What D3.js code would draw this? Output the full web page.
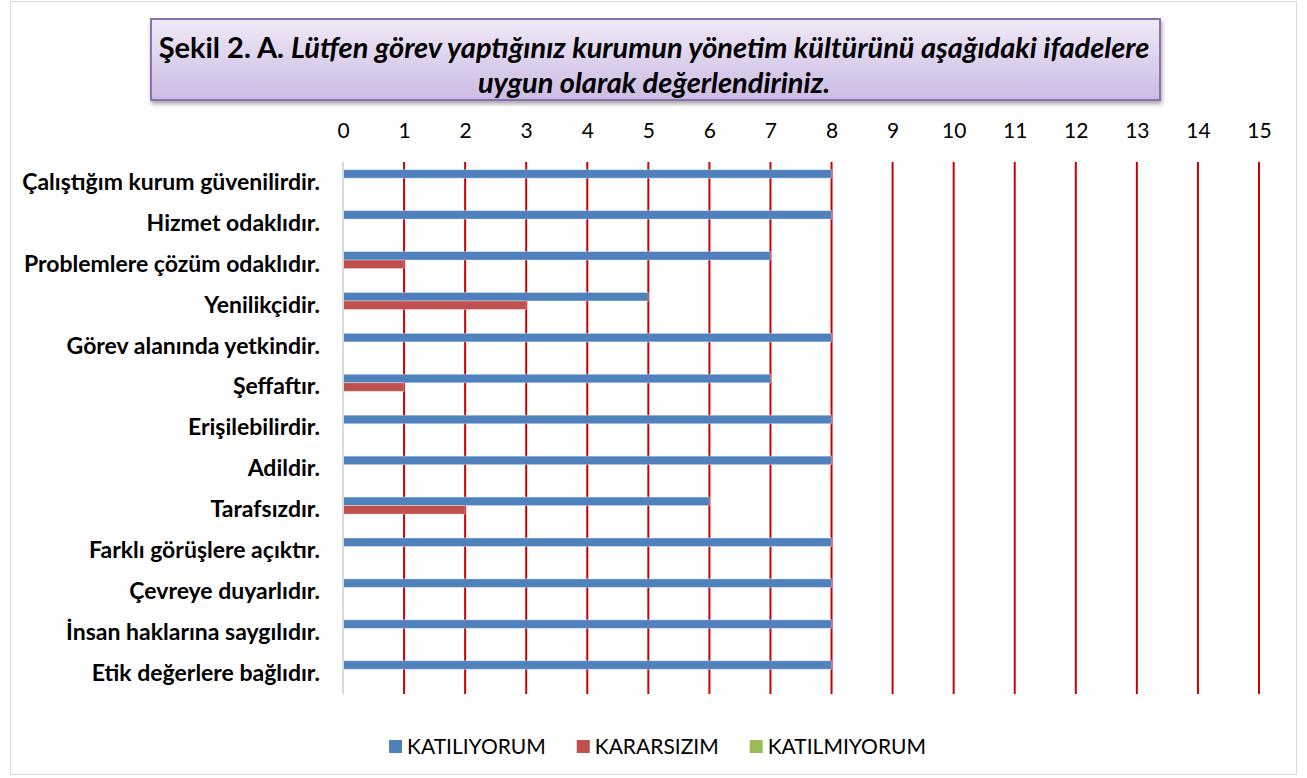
<!DOCTYPE html>
<html>
<head>
<meta charset="utf-8">
<script src="https://cdnjs.cloudflare.com/ajax/libs/d3/7.8.5/d3.min.js"></script>
<style>
  body { margin: 0; background: #fff; }
  svg { display: block; font-family: Lato, "Open Sans", sans-serif; }
</style>
</head>
<body>
<div id="chart"></div>
<script>
const categories = [
    "Çalıştığım kurum güvenilirdir.",
    "Hizmet odaklıdır.",
    "Problemlere çözüm odaklıdır.",
    "Yenilikçidir.",
    "Görev alanında yetkindir.",
    "Şeffaftır.",
    "Erişilebilirdir.",
    "Adildir.",
    "Tarafsızdır.",
    "Farklı görüşlere açıktır.",
    "Çevreye duyarlıdır.",
    "İnsan haklarına saygılıdır.",
    "Etik değerlere bağlıdır."
];
const seriesNames = ["KATILIYORUM", "KARARSIZIM", "KATILMIYORUM"];
const katiliyorum = [8, 8, 7, 5, 8, 7, 8, 8, 6, 8, 8, 8, 8];
const kararsizim = [0, 0, 1, 3, 0, 1, 0, 0, 2, 0, 0, 0, 0];
const katilmiyorum = [0, 0, 0, 0, 0, 0, 0, 0, 0, 0, 0, 0, 0];
const tickValues = d3.range(0, 16);

const colors = ["#4f81bd", "#c0504d", "#9bbb59"];
const seriesValues = [katiliyorum, kararsizim, katilmiyorum];

const width = 1307, height = 778;
const plot = { left: 343, right: 1259, top: 162, bottom: 694 };

const svg = d3.select("#chart")
    .append("svg")
    .attr("width", width)
    .attr("height", height);

// outer frame
svg.append("rect")
    .attr("x", 10.5).attr("y", 1.5)
    .attr("width", 1286).attr("height", 773)
    .attr("fill", "#fff")
    .attr("stroke", "#d9d9d9");

// title box
const defs = svg.append("defs");
const grad = defs.append("linearGradient")
    .attr("id", "titleGrad")
    .attr("x1", 0).attr("y1", 0).attr("x2", 0).attr("y2", 1);
grad.append("stop").attr("offset", "0%").attr("stop-color", "#efe9f6");
grad.append("stop").attr("offset", "100%").attr("stop-color", "#cbbbe3");

const shadow = defs.append("filter").attr("id", "shadow")
    .attr("x", "-5%").attr("y", "-20%").attr("width", "110%").attr("height", "150%");
shadow.append("feDropShadow")
    .attr("dx", 1).attr("dy", 3).attr("stdDeviation", 2)
    .attr("flood-color", "#000").attr("flood-opacity", 0.35);

svg.append("rect")
    .attr("x", 151).attr("y", 19)
    .attr("width", 1009).attr("height", 81)
    .attr("fill", "url(#titleGrad)")
    .attr("stroke", "#8a72b0")
    .attr("stroke-width", 2)
    .attr("filter", "url(#shadow)");

const titleSize = 29;
const title1 = svg.append("text")
    .attr("x", 654).attr("y", 58)
    .attr("text-anchor", "middle")
    .attr("font-size", titleSize)
    .attr("font-weight", "bold")
    .attr("fill", "#000");
title1.append("tspan").text("Şekil 2. A. ");
title1.append("tspan").attr("font-style", "italic")
    .text("Lütfen görev yaptığınız kurumun yönetim kültürünü aşağıdaki ifadelere");

svg.append("text")
    .attr("x", 654).attr("y", 93)
    .attr("text-anchor", "middle")
    .attr("font-size", titleSize)
    .attr("font-weight", "bold")
    .attr("font-style", "italic")
    .text("uygun olarak değerlendiriniz.");

// scales
const x = d3.scaleLinear().domain([0, 15]).range([plot.left, plot.right]);
const y = d3.scaleBand().domain(categories).range([plot.top, plot.bottom]).paddingInner(0.375).paddingOuter(0.1875);
const ySeries = d3.scaleBand().domain(seriesNames).range([0, y.bandwidth()]);

// gridlines
svg.append("g")
    .selectAll("line")
    .data(tickValues.filter(d => d > 0))
    .join("line")
    .attr("x1", d => x(d)).attr("x2", d => x(d))
    .attr("y1", plot.top).attr("y2", plot.bottom)
    .attr("stroke", "#cc0000")
    .attr("stroke-width", 2);

// top axis labels
const xAxis = svg.append("g")
    .attr("transform", `translate(0,${plot.top - 24})`)
    .call(d3.axisTop(x).tickValues(tickValues).tickSize(0).tickPadding(0));
xAxis.select(".domain").remove();
xAxis.selectAll("text")
    .attr("font-family", "Lato, 'Open Sans', sans-serif")
    .attr("font-size", 21)
    .attr("fill", "#000");

// bars
const groups = svg.append("g")
    .selectAll("g")
    .data(categories)
    .join("g")
    .attr("transform", d => `translate(0,${y(d)})`);

groups.selectAll("rect")
    .data((d, i) => seriesNames.map((s, j) => ({ s, v: seriesValues[j][i], c: colors[j] })))
    .join("rect")
    .attr("x", x(0))
    .attr("y", d => ySeries(d.s))
    .attr("width", d => x(d.v) - x(0))
    .attr("height", ySeries.bandwidth())
    .attr("fill", d => d.c)
    .attr("stroke", d => d.v > 0 ? "rgba(255,255,255,0.35)" : "none")
    .attr("stroke-width", 1);

// left axis line
svg.append("line")
    .attr("x1", plot.left).attr("x2", plot.left)
    .attr("y1", plot.top).attr("y2", plot.bottom)
    .attr("stroke", "#d9d9d9")
    .attr("stroke-width", 2);

// category labels
const yAxis = svg.append("g")
    .attr("transform", `translate(${plot.left - 23},0)`)
    .call(d3.axisLeft(y.copy().paddingInner(0).paddingOuter(0)).tickSize(0).tickPadding(0));
yAxis.select(".domain").remove();
yAxis.selectAll("text")
    .attr("font-family", "Lato, 'Open Sans', sans-serif")
    .attr("font-size", 23)
    .attr("font-weight", "bold")
    .attr("fill", "#000");

// legend, laid out left to right from measured text widths
const legend = svg.append("g").attr("transform", "translate(389,740)");
let lx = 0;
seriesNames.forEach((name, i) => {
    const item = legend.append("g").attr("transform", `translate(${lx},0)`);
    item.append("rect")
        .attr("width", 13).attr("height", 13)
        .attr("fill", colors[i]);
    const t = item.append("text")
        .attr("x", 18).attr("y", 6.5)
        .attr("dy", "0.35em")
        .attr("font-size", 21)
        .attr("fill", "#000")
        .text(name);
    lx += 18 + t.node().getComputedTextLength() + 31;
});
</script>
</body>
</html>
